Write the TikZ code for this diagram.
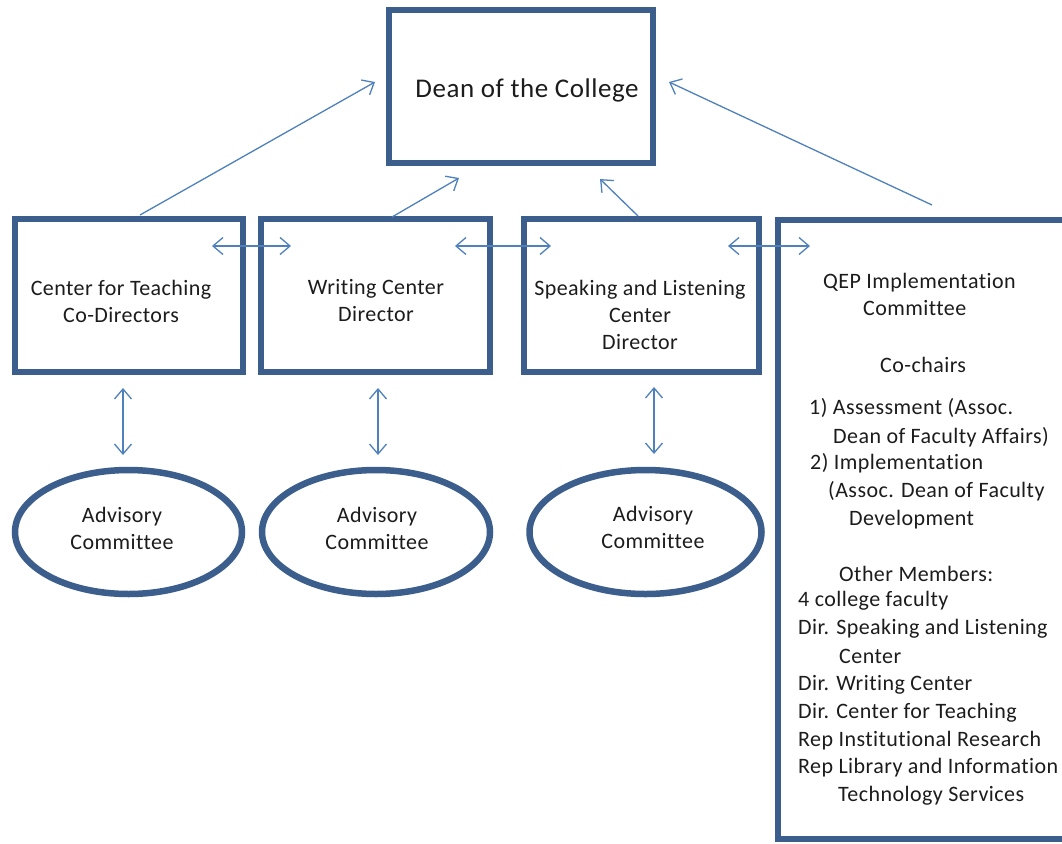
\documentclass[tikz,border=0pt]{standalone}
\usepackage{fontspec}
\setmainfont{Carlito}[Ligatures=NoCommon, LetterSpace=2]
\usetikzlibrary{arrows.meta,shapes.geometric}
\definecolor{boxblue}{RGB}{60,94,140}
\definecolor{linkblue}{RGB}{79,129,189}
\definecolor{inkgrey}{RGB}{28,28,28}

\begin{document}
\begin{tikzpicture}[x=1pt,y=-1pt,
  unitbox/.style={draw=boxblue, line width=6.5pt, rectangle, inner sep=0pt, fill=white},
  council/.style={draw=boxblue, line width=6.5pt, ellipse, inner sep=0pt, fill=white},
  label/.style={text=inkgrey, font=\fontsize{22}{27}\selectfont, align=center, inner sep=0pt},
  biglabel/.style={text=inkgrey, font=\fontsize{27}{32}\selectfont, inner sep=0pt},
  qline/.style={text=inkgrey, font=\fontsize{22}{27}\selectfont, anchor=base west, inner sep=0pt},
  link/.style={draw=linkblue, line width=1.3pt},
  headto/.style={-{Straight Barb[length=10pt,width=17pt,line width=1.3pt]}},
  headboth/.style={{Straight Barb[length=10pt,width=17pt,line width=1.3pt]}-{Straight Barb[length=10pt,width=17pt,line width=1.3pt]}}
]
\clip (0,0) rectangle (1062,843);
\fill[white] (0,0) rectangle (1062,843);

% boxes
\node[unitbox, minimum width=264pt, minimum height=153pt] (dean) at (521,86.5) {};
\node[unitbox, minimum width=228pt, minimum height=153pt] (cft) at (129,295.5) {};
\node[unitbox, minimum width=229pt, minimum height=153pt] (wc) at (375.5,295.5) {};
\node[unitbox, minimum width=235pt, minimum height=153pt] (slc) at (641.5,295.5) {};
\node[unitbox, minimum width=310pt, minimum height=619pt] (qep) at (933,529.5) {};

% advisory committees
\node[council, minimum width=227pt, minimum height=124pt] (adv1) at (128.5,532) {};
\node[council, minimum width=228pt, minimum height=124pt] (adv2) at (376,532) {};
\node[council, minimum width=232pt, minimum height=124pt] (adv3) at (645.5,532) {};

% texts
\node[biglabel] (tdean) at (527,90) {Dean of the College};
\node[label] (tcft) at (121,301) {Center for Teaching\\Co-Directors};
\node[label] (twc) at (376,301) {Writing Center\\Director};
\node[label] (tslc) at (640,315) {Speaking and Listening\\Center\\Director};
\node[label] (tadv1) at (122,528) {Advisory\\Committee};
\node[label] (tadv2) at (377,528) {Advisory\\Committee};
\node[label] (tadv3) at (653,527) {Advisory\\Committee};

\foreach \x/\y/\t [count=\i] in {
  823/282/{QEP Implementation},
  863/309/{Committee},
  880/366/{Co-chairs},
  809/408/{1) Assessment (Assoc.},
  833/437/{Dean of Faculty Affairs)},
  810/463/{2) Implementation},
  828/491/{(Assoc. Dean of Faculty},
  849/519/{Development},
  839/575/{Other Members:},
  798/600/{4 college faculty},
  798/628/{Dir. Speaking and Listening},
  839/657/{Center},
  798/684/{Dir. Writing Center},
  798/712/{Dir. Center for Teaching},
  798/740/{Rep Institutional Research},
  798/767/{Rep Library and Information},
  838/795/{Technology Services}}
  \node[qline] (q\i) at (\x,\y+6) {\t};

% connector end points
\coordinate (e1a) at (140,215);   \coordinate (e1b) at (375,82);
\coordinate (e2a) at (392,217);   \coordinate (e2b) at (459,178);
\coordinate (e3a) at (638,216);   \coordinate (e3b) at (600,179);
\coordinate (e4a) at (932,205);   \coordinate (e4b) at (669,82);
\coordinate (h1a) at (212,246);   \coordinate (h1b) at (291,246);
\coordinate (h2a) at (455,246);   \coordinate (h2b) at (551,246);
\coordinate (h3a) at (728,246);   \coordinate (h3b) at (810,246);
\coordinate (v1a) at (123,388);   \coordinate (v1b) at (123,455);
\coordinate (v2a) at (378,388);   \coordinate (v2b) at (378,455);
\coordinate (v3a) at (654,387);   \coordinate (v3b) at (654,454);

% reporting lines to the dean
\draw[link, headto] (e1a) -- (e1b);
\draw[link, headto] (e2a) -- (e2b);
\draw[link, headto] (e3a) -- (e3b);
\draw[link, headto] (e4a) -- (e4b);

% links between the centers and the committee
\draw[link, headboth] (h1a) -- (h1b);
\draw[link, headboth] (h2a) -- (h2b);
\draw[link, headboth] (h3a) -- (h3b);

% links to the advisory committees
\draw[link, headboth] (v1a) -- (v1b);
\draw[link, headboth] (v2a) -- (v2b);
\draw[link, headboth] (v3a) -- (v3b);
\end{tikzpicture}
\end{document}
